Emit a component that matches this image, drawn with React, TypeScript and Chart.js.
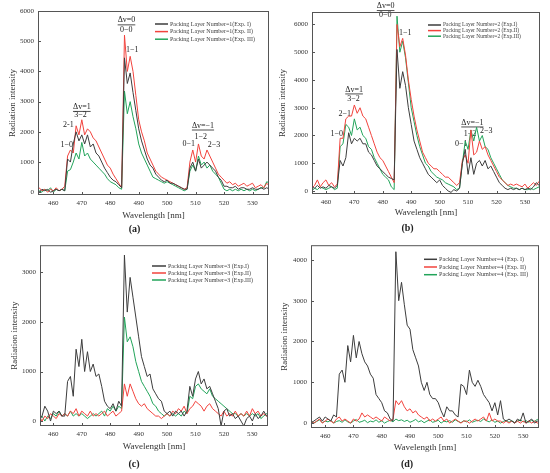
import { useEffect, useRef } from 'react';
import { Chart, registerables, Plugin } from 'chart.js';

Chart.register(...registerables);

const FONT = "'Liberation Serif', 'Times New Roman', serif";

// shared wavelength grid [nm]
const wavelengths = [
  454, 455, 456, 457, 458, 459, 460, 461, 462, 463, 464,
  465, 466, 467, 468, 469, 470, 471, 472, 473, 474, 475, 476, 477, 478, 479, 480, 481, 482, 483, 484,
  485, 486, 487, 488, 489, 490, 491, 492, 493, 494, 495, 496, 497, 498, 499, 500, 501, 502, 503, 504, 505, 506, 507,
  508, 509, 510, 511, 512, 513, 514, 515, 516, 517, 518, 519, 520, 521, 522, 523, 524, 525, 526, 527, 528, 529, 530,
  531, 532, 533, 534, 535, 536,
];
const xTicks = [460, 470, 480, 490, 500, 510, 520, 530];

// (a) packing layer number = 1
const layer1ExpI = [
  100, 0, 100, 50, 100, 0, 50, 100, 50, 100, 50,
  1100, 1000, 1600, 2000, 1700, 1900, 1600, 1900, 1500, 1600, 1300, 1200, 1000, 800, 650, 500, 400, 350, 250, 150,
  4450, 3600, 3950, 3300, 2700, 2100, 1700, 1400, 1100, 900, 800, 600, 500, 400, 350, 400, 300, 300, 250, 200, 150, 100, 100,
  800, 1000, 700, 1100, 800, 900, 1000, 900, 800, 700, 500, 400, 200, 200, 150, 150, 200, 100, 150, 150, 100, 100, 150,
  100, 100, 150, 100, 150, 100,
];
const layer1ExpII = [
  0, 150, 50, 100, 0, 100, 50, 150, 50, 100, 200,
  1200, 1400, 1300, 2200, 1900, 2400, 1900, 2100, 2000, 1800, 1700, 1500, 1300, 1100, 900, 800, 600, 450, 300, 150,
  5200, 4000, 4500, 4000, 3200, 2400, 2000, 1700, 1300, 1100, 900, 700, 600, 500, 450, 400, 350, 300, 250, 200, 150, 100, 150,
  1000, 1400, 1000, 1600, 1200, 1100, 1400, 1200, 1000, 800, 600, 500, 400, 300, 350, 250, 300, 200, 250, 300, 200, 250, 300,
  150, 200, 250, 150, 300, 200,
];
const layer1ExpIII = [
  100, 50, 0, 100, 50, 150, 0, 100, 50, 100, 50,
  700, 750, 1000, 1300, 1100, 1650, 1200, 1300, 1100, 1000, 900, 800, 700, 600, 450, 350, 300, 250, 150, 100,
  3350, 2600, 3000, 2500, 2100, 1600, 1300, 1100, 900, 700, 500, 450, 400, 350, 300, 350, 300, 250, 200, 150, 100, 50, 100,
  700, 900, 700, 1200, 900, 1000, 800, 900, 700, 600, 500, 300, 100, 50, 100, 50, 100, 50, 100, 50, 100, 50, 100,
  50, 100, 150, 150, 350, 300,
];

// (b) packing layer number = 2
const layer2ExpI = [
  100, 150, 100, 200, 100, 150, 100, 200, 150, 100, 200,
  1100, 900, 1200, 2100, 1700, 1900, 1800, 1900, 1700, 1700, 1400, 1300, 1100, 900, 800, 700, 600, 500, 450, 400,
  5100, 3700, 4300, 3800, 3000, 2400, 1800, 1500, 1200, 1000, 800, 600, 500, 400, 300, 400, 200, 100, 0, -50, 50, 0, 100,
  1000, 1500, 600, 1200, 600, 1000, 1100, 900, 1100, 800, 900, 700, 500, 300, 200, 100, 50, 100, 50, 100, 50, 100, 50,
  100, 50, 150, 300, 200, 100,
];
const layer2ExpII = [
  300, 100, 200, 400, 150, 300, 400, 200, 300, 150, 250,
  1900, 1900, 2600, 2700, 2700, 3100, 2800, 3000, 2700, 2600, 2300, 2000, 1700, 1400, 1200, 1100, 900, 700, 500, 300,
  6000, 5200, 5500, 4900, 4000, 3300, 2700, 2200, 1800, 1400, 1200, 1000, 900, 800, 800, 700, 600, 500, 500, 400, 300, 200, 300,
  1100, 1300, 1000, 2200, 1300, 1400, 1800, 1500, 1600, 1300, 1100, 900, 700, 500, 400, 300, 200, 250, 200, 250, 200, 150, 250,
  100, 200, 300, 200, 350, 250,
];
const layer2ExpIII = [
  100, 0, 100, 50, 150, 100, 50, 100, 150, 50, 100,
  1600, 1700, 2400, 2300, 2000, 2600, 2200, 2300, 2000, 1900, 1600, 1500, 1200, 1000, 800, 600, 500, 400, 150, 50,
  6300, 5000, 5400, 4800, 3900, 3000, 2500, 2000, 1600, 1300, 1000, 900, 700, 600, 500, 450, 400, 300, 250, 200, 150, 50, 100,
  1000, 1800, 1500, 2200, 1800, 2300, 1800, 2000, 1600, 1500, 1200, 1000, 800, 600, 400, 300, 200, 150, 100, 100, 50, 100, 50,
  50, 100, 50, 100, 150, 100,
];

// (c) packing layer number = 3
const layer3ExpI = [
  0, 0, 100, 300, 200, 0, 200, 150, 200, 100, 100,
  800, 900, 500, 1450, 1100, 1650, 1000, 1400, 1000, 1150, 900, 950, 700, 400, 300, 250, 350, 200, 400, 300,
  3350, 2200, 2900, 2500, 2100, 1700, 1300, 1100, 900, 950, 650, 550, 450, 400, 200, 150, 200, 100, 200, 150, 200, 100, 200,
  700, 500, 850, 1000, 750, 850, 650, 700, 550, 400, 250, -100, 200, 250, 100, 150, 50, 100, 0, -100, 50, 100, 0,
  150, 50, 100, 200, 100, 50,
];
const layer3ExpII = [
  100, 100, 0, 100, 50, 150, 100, 50, 150, 100, 150,
  100, 200, 150, 250, 100, 200, 150, 100, 200, 100, 150, 100, 150, 200, 100, 150, 200, 100, 150, 200,
  750, 500, 750, 600, 450, 350, 300, 350, 250, 200, 150, 100, 100, 50, 100, 150, 100, 200, 150, 250, 200, 300, 150,
  250, 300, 400, 350, 300, 200, 300, 350, 250, 200, 150, 100, 200, 100, 150, 100, 200, 100, 150, 100, 200, 100, 250,
  150, 200, 100, 150, 100, 150,
];
const layer3ExpIII = [
  100, 50, 100, 0, 100, 50, 150, 100, 200, 100, 150,
  100, 200, 100, 150, 100, 150, 100, 50, 100, 150, 100, 150, 200, 100, 250, 200, 300, 200, 300, 250,
  2100, 1600, 1700, 1500, 1200, 1000, 800, 700, 600, 500, 350, 300, 200, 150, 100, 150, 100, 150, 100, 150, 100, 200, 150,
  500, 450, 700, 750, 650, 600, 550, 650, 500, 450, 400, 350, 300, 250, 200, 150, 150, 100, 150, 100, 150, 100, 150,
  100, 150, 50, 100, 150, 100,
];

// (d) packing layer number = 4
const layer4ExpI = [
  50, 0, 50, 100, 150, 50, 150, 100, 50, 200, 150,
  1200, 1300, 1000, 1900, 1500, 2150, 1600, 2000, 1700, 1500, 1400, 1200, 1100, 700, 600, 500, 300, 250, 100, 50,
  4200, 3000, 3450, 2900, 2400, 2300, 1800, 1600, 1400, 1000, 800, 1000, 700, 600, 600, 500, 300, 150, 400, 300, 300, 200, 150,
  950, 900, 700, 1300, 1000, 900, 1050, 900, 700, 600, 500, 300, 500, 200, 550, 100, 50, 100, 50, 0, 100, 50, 250,
  0, 50, 100, 0, 50, 0,
];
const layer4ExpII = [
  50, 50, 0, 50, 100, 0, 50, 100, 50, 0, 100,
  150, 50, 100, 50, 0, 100, 50, 100, 250, 150, 200, 150, 100, 150, 100, 50, 150, 100, 50, 100,
  550, 450, 550, 400, 300, 350, 250, 300, 200, 150, 100, 150, 50, 100, 50, 100, 150, 50, 100, 0, 50, 100, 50,
  0, 50, 50, 0, 50, 100, 50, 100, 150, 50, 250, 50, 100, 50, 50, 0, 50, 0, 50, 0, 50, 0, 50,
  0, 50, 0, 50, 0, 50,
];
const layer4ExpIII = [
  20, 60, 0, 40, 80, 10, 50, 30, 70, 0, 40,
  60, 20, 80, 30, 0, 50, 90, 20, 40, 70, 10, 50, 30, 80, 20, 60, 0, 40, 70, 30,
  100, 60, 80, 40, 70, 20, 50, 90, 30, 60, 10, 50, 80, 20, 40, 70, 0, 50, 30, 60, 20, 80, 40,
  10, 60, 30, 80, 20, 50, 70, 40, 100, 60, 30, 80, 20, 50, 0, 40, 70, 20, 60, 10, 50, 80, 30,
  60, 20, 70, 40, 90, 30,
];

const namesA = ['Packing Layer Number=1(Exp. I)', 'Packing Layer Number=1(Exp. II)', 'Packing Layer Number=1(Exp. III)'];
const namesB = ['Packing Layer Number=2 (Exp.I)', 'Packing Layer Number=2 (Exp.II)', 'Packing Layer Number=2 (Exp.III)'];
const namesC = ['Packing Layer Number=3 (Exp.I)', 'Packing Layer Number=3 (Exp.II)', 'Packing Layer Number=3 (Exp.III)'];
const namesD = ['Packing Layer Number=4 (Exp. I)', 'Packing Layer Number=4 (Exp. II)', 'Packing Layer Number=4 (Exp. III)'];

const ticksA = [0, 1000, 2000, 3000, 4000, 5000, 6000];
const ticksB = [0, 1000, 2000, 3000, 4000, 5000, 6000];
const ticksC = [0, 1000, 2000, 3000];
const ticksD = [0, 1000, 2000, 3000, 4000];

type Note = { text: string; x: number; y: number; line?: boolean };

// band labels, placed at wavelength / intensity
const notesA: Note[] = [
  { text: 'Δv=0', x: 485.7, y: 5690, line: true },
  { text: '0−0', x: 485.6, y: 5380 },
  { text: '1−1', x: 487.7, y: 4700 },
  { text: 'Δv=1', x: 470.0, y: 2825, line: true },
  { text: '3−2', x: 469.5, y: 2575 },
  { text: '2-1', x: 465.3, y: 2230 },
  { text: '1−0', x: 464.7, y: 1570 },
  { text: 'Δv=−1', x: 512.6, y: 2210, line: true },
  { text: '0−1', x: 507.6, y: 1585 },
  { text: '1−2', x: 511.8, y: 1835 },
  { text: '2−3', x: 516.5, y: 1560 },
];
const notesB: Note[] = [
  { text: 'Δv=0', x: 481.0, y: 6665, line: true },
  { text: '0−0', x: 480.9, y: 6330 },
  { text: '1−1', x: 487.9, y: 5710 },
  { text: 'Δv=1', x: 469.9, y: 3660, line: true },
  { text: '3−2', x: 469.7, y: 3310 },
  { text: '2−1', x: 466.6, y: 2770 },
  { text: '1−0', x: 463.8, y: 2050 },
  { text: 'Δv=−1', x: 511.5, y: 2470, line: true },
  { text: '1−2', x: 510.7, y: 2075 },
  { text: '2−3', x: 516.4, y: 2170 },
  { text: '0−1', x: 507.6, y: 1715 },
];

const COLORS = ['#3d3d3d', '#f2433d', '#22a45a'];

interface PanelProps {
  left: number;
  top: number;
  width: number;
  height: number;
  box: [number, number, number, number];
  xRange: [number, number];
  xTitleY: number;
  yTitleX: number;
  captionY: number;
  yMin: number;
  yMax: number;
  yTicks: number[];
  series: number[][];
  names: string[];
  legend: { x: number; y: number; gap: number; size: number; len: number };
  notes: Note[];
  caption: string;
}

function Panel(p: PanelProps) {
  const canvasRef = useRef<HTMLCanvasElement>(null);

  useEffect(() => {
    if (!canvasRef.current) return;
    const [pl, pt, pr, pb] = p.box;
    const capTop = p.captionY - 6;

    const frame: Plugin<'line'> = {
      id: 'frame',
      beforeDatasetsDraw(chart) {
        const { ctx } = chart;
        const xs = chart.scales.x;
        const ys = chart.scales.y;
        ctx.save();
        ctx.font = `8px ${FONT}`;
        ctx.fillStyle = '#222';
        ctx.strokeStyle = '#222';
        ctx.lineWidth = 0.8;
        ctx.textAlign = 'center';
        ctx.textBaseline = 'middle';
        p.notes.forEach(n => {
          const px = xs.getPixelForValue(n.x);
          const py = ys.getPixelForValue(n.y);
          ctx.fillText(n.text, px, py);
          if (n.line) {
            const w = ctx.measureText(n.text).width;
            ctx.beginPath();
            ctx.moveTo(px - w / 2, py + 4.5);
            ctx.lineTo(px + w / 2, py + 4.5);
            ctx.stroke();
          }
        });
        ctx.restore();
      },
      afterDraw(chart) {
        const { ctx, chartArea: ca } = chart;
        const xs = chart.scales.x;
        const ys = chart.scales.y;
        ctx.save();
        ctx.strokeStyle = '#555';
        ctx.lineWidth = 1;
        ctx.strokeRect(ca.left + 0.5, ca.top + 0.5, ca.right - ca.left - 1, ca.bottom - ca.top - 1);
        ctx.beginPath();
        xTicks.forEach(v => {
          const x = Math.round(xs.getPixelForValue(v)) + 0.5;
          ctx.moveTo(x, ca.bottom);
          ctx.lineTo(x, ca.bottom - 3);
        });
        p.yTicks.forEach(v => {
          const y = Math.round(ys.getPixelForValue(v)) + 0.5;
          ctx.moveTo(ca.left, y);
          ctx.lineTo(ca.left + 3, y);
        });
        ctx.stroke();

        const lg = p.legend;
        ctx.font = `${lg.size}px ${FONT}`;
        ctx.textAlign = 'left';
        ctx.textBaseline = 'middle';
        p.names.forEach((name, i) => {
          const y = lg.y + i * lg.gap;
          ctx.strokeStyle = COLORS[i];
          ctx.lineWidth = 1.5;
          ctx.beginPath();
          ctx.moveTo(lg.x, y);
          ctx.lineTo(lg.x + lg.len, y);
          ctx.stroke();
          ctx.fillStyle = '#444';
          ctx.fillText(name, lg.x + lg.len + 2, y);
        });
        ctx.restore();
      },
    };

    const chart = new Chart(canvasRef.current, {
      type: 'line',
      data: {
        datasets: p.series.map((s, i) => ({
          label: p.names[i],
          data: wavelengths.map((x, j) => ({ x, y: s[j] })),
          borderColor: COLORS[i],
          borderWidth: 1,
          pointRadius: 0,
          tension: 0,
          fill: false,
        })),
      },
      options: {
        animation: false,
        responsive: false,
        maintainAspectRatio: false,
        events: [],
        layout: { padding: { left: 0, top: pt, right: p.width - pr, bottom: 0 } },
        plugins: {
          legend: { display: false },
          tooltip: { enabled: false },
          title: {
            display: true,
            position: 'bottom',
            text: p.caption,
            color: '#222',
            font: { family: FONT, size: 10, weight: 'bold', lineHeight: 1.2 },
            padding: { top: 0, bottom: p.height - p.captionY - 6 },
          },
        },
        scales: {
          x: {
            type: 'linear',
            min: p.xRange[0],
            max: p.xRange[1],
            afterBuildTicks: scale => {
              scale.ticks = xTicks.map(value => ({ value }));
            },
            afterFit: scale => {
              scale.height = capTop - pb;
            },
            grid: { display: false, drawTicks: false, tickLength: 0 },
            border: { display: false },
            ticks: {
              autoSkip: false,
              maxRotation: 0,
              padding: 4,
              color: '#333',
              font: { family: FONT, size: 7 },
              callback: v => String(v),
            },
            title: {
              display: true,
              text: 'Wavelength [nm]',
              color: '#333',
              font: { family: FONT, size: 9, lineHeight: 1.2 },
              padding: { top: 0, bottom: capTop - p.xTitleY - 5.4 },
            },
          },
          y: {
            min: p.yMin,
            max: p.yMax,
            afterBuildTicks: scale => {
              scale.ticks = p.yTicks.map(value => ({ value }));
            },
            afterFit: scale => {
              scale.width = pl;
            },
            grid: { display: false, drawTicks: false, tickLength: 0 },
            border: { display: false },
            ticks: {
              padding: 4,
              color: '#333',
              font: { family: FONT, size: 7 },
              callback: v => String(v),
            },
            title: {
              display: true,
              text: 'Radiation intensity',
              color: '#333',
              font: { family: FONT, size: 9, lineHeight: 1.2 },
              padding: { top: Math.max(p.yTitleX - 5.4, 0), bottom: 0 },
            },
          },
        },
      },
      plugins: [frame],
    });

    return () => {
      chart.destroy();
    };
  }, [p]);

  return (
    <canvas
      ref={canvasRef}
      width={p.width}
      height={p.height}
      style={{ position: 'absolute', left: p.left, top: p.top, width: p.width, height: p.height }}
    />
  );
}

const panels: PanelProps[] = [
  {
    left: 0, top: 0, width: 275, height: 237,
    box: [38, 11, 269, 195], xRange: [454.6, 535.8], xTitleY: 216, yTitleX: 13, captionY: 229,
    yMin: -90, yMax: 6000, yTicks: ticksA,
    series: [layer1ExpI, layer1ExpII, layer1ExpIII], names: namesA,
    legend: { x: 155, y: 24, gap: 7.6, size: 6, len: 13 },
    notes: notesA, caption: '(a)',
  },
  {
    left: 275, top: 0, width: 275, height: 237,
    box: [37, 12, 265, 194], xRange: [455.1, 535.3], xTitleY: 213, yTitleX: 7.5, captionY: 228,
    yMin: -108, yMax: 6450, yTicks: ticksB,
    series: [layer2ExpI, layer2ExpII, layer2ExpIII], names: namesB,
    legend: { x: 153, y: 25, gap: 5.6, size: 5.5, len: 13 },
    notes: notesB, caption: '(b)',
  },
  {
    left: 0, top: 237, width: 275, height: 236,
    box: [40, 5, 268, 189], xRange: [455.3, 535.5], xTitleY: 210, yTitleX: 15, captionY: 227,
    yMin: -100, yMax: 3550, yTicks: ticksC,
    series: [layer3ExpI, layer3ExpII, layer3ExpIII], names: namesC,
    legend: { x: 152, y: 29, gap: 7, size: 6, len: 14 },
    notes: [], caption: '(c)',
  },
  {
    left: 275, top: 237, width: 275, height: 236,
    box: [36, 5, 264, 191], xRange: [455.0, 535.6], xTitleY: 211, yTitleX: 10, captionY: 227,
    yMin: -120, yMax: 4360, yTicks: ticksD,
    series: [layer4ExpI, layer4ExpII, layer4ExpIII], names: namesD,
    legend: { x: 149, y: 22.3, gap: 7.7, size: 6.2, len: 13 },
    notes: [], caption: '(d)',
  },
];

export default function App() {
  return (
    <div style={{ position: 'absolute', left: 0, top: 0, width: 550, height: 473, background: '#fff' }}>
      {panels.map(p => (
        <Panel key={p.caption} {...p} />
      ))}
    </div>
  );
}
